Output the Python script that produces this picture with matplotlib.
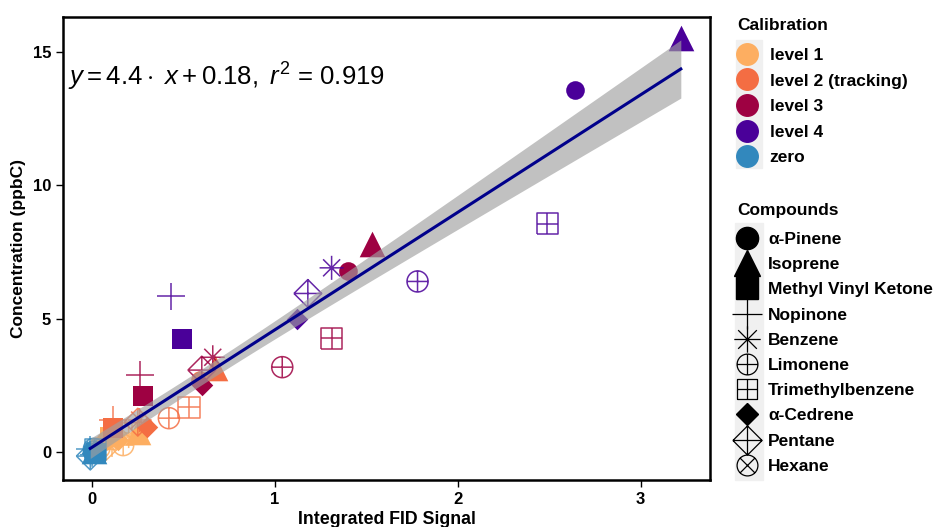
import numpy as np
import matplotlib
matplotlib.use("Agg")
import matplotlib.pyplot as plt
from matplotlib.path import Path
from matplotlib.lines import Line2D
from matplotlib.patches import Rectangle

plt.rcParams['font.family'] = ['Liberation Sans', 'DejaVu Sans']
plt.rcParams['mathtext.fontset'] = 'custom'
plt.rcParams['mathtext.rm'] = 'Liberation Sans'
plt.rcParams['mathtext.it'] = 'Liberation Sans:italic'

# data
compounds = ['α-Pinene', 'Isoprene', 'Methyl Vinyl Ketone', 'Nopinone', 'Benzene',
             'Limonene', 'Trimethylbenzene', 'α-Cedrene', 'Pentane', 'Hexane']
levels = ['level 1', 'level 2 (tracking)', 'level 3', 'level 4', 'zero']
level_colors = ['#fdae61', '#f46d43', '#9e0142', '#4a0099', '#3288bd']

nan = np.nan
lvl1_x = [0.07, 0.25, 0.10, 0.11, 0.20, 0.17, 0.22, 0.14, 0.06, 0.04]
lvl1_y = [0.40, 0.75, 0.56, 0.33, 0.60, 0.26, 0.70, 0.45, 0.10, 0.15]
lvl2_x = [0.59, 0.67, 0.115, 0.115, 0.26, 0.42, 0.53, 0.30, 0.25, nan]
lvl2_y = [2.70, 3.14, 0.90, 1.20, 1.20, 1.27, 1.68, 0.95, 1.12, nan]
lvl3_x = [1.40, 1.53, 0.28, 0.26, 0.66, 1.04, 1.31, 0.60, 0.60, nan]
lvl3_y = [6.80, 7.80, 2.09, 2.88, 3.55, 3.18, 4.26, 2.50, 3.07, nan]
lvl4_x = [2.64, 3.22, 0.49, 0.43, 1.31, 1.78, 2.49, 1.12, 1.18, nan]
lvl4_y = [13.57, 15.50, 4.22, 5.83, 6.90, 6.39, 8.56, 5.00, 5.94, nan]
zero_x = [0.00, 0.01, 0.02, -0.01, 0.00, 0.01, 0.02, 0.00, -0.01, 0.01]
zero_y = [0.00, 0.05, -0.05, 0.10, -0.10, 0.02, 0.08, -0.02, -0.15, 0.12]

slope = 4.4
intercept = 0.18
r2 = 0.919

level_x = [lvl1_x, lvl2_x, lvl3_x, lvl4_x, zero_x]
level_y = [lvl1_y, lvl2_y, lvl3_y, lvl4_y, zero_y]

# custom open markers
M, L = Path.MOVETO, Path.LINETO
cross = Path([[-1, 0], [1, 0], [0, -1], [0, 1]], [M, L, M, L])
xcross = Path([[-0.707, -0.707], [0.707, 0.707], [-0.707, 0.707], [0.707, -0.707]], [M, L, M, L])
circ = Path.unit_circle()
sq = Path([[-1, -1], [1, -1], [1, 1], [-1, 1], [-1, -1]], [M, L, L, L, L])
dia = Path([[-1, 0], [0, -1], [1, 0], [0, 1], [-1, 0]], [M, L, L, L, L])
asterisk = Path.make_compound_path(cross, xcross)
circle_plus = Path.make_compound_path(circ, cross)
square_plus = Path.make_compound_path(sq, cross)
diamond_plus = Path.make_compound_path(dia, cross)
circle_x = Path.make_compound_path(circ, xcross)

comp_markers = ['o', '^', 's', cross, asterisk, circle_plus, square_plus, 'D', diamond_plus, circle_x]
comp_filled = [True, True, True, False, False, False, False, True, False, False]
comp_sizes = [180, 340, 200, 400, 300, 230, 230, 120, 400, 230]
legend_msizes = [16, 19, 15.5, 21, 19, 15, 15, 11, 21, 15]

fig = plt.figure(figsize=(9.38, 5.27), dpi=100)
ax = fig.add_axes([0.067, 0.089, 0.69, 0.879])

for li in range(len(levels)):
    c = level_colors[li]
    for ci in range(len(compounds)):
        x = level_x[li][ci]
        y = level_y[li][ci]
        if np.isnan(x):
            continue
        if comp_filled[ci]:
            ax.scatter(x, y, s=comp_sizes[ci], marker=comp_markers[ci], color=c,
                       linewidths=0, zorder=2)
        else:
            ax.scatter(x, y, s=comp_sizes[ci], marker=comp_markers[ci], facecolors='none',
                       edgecolors=c, linewidths=1.1, alpha=0.85, zorder=2)

# regression line with confidence band
allx = np.concatenate([np.array(v, dtype=float) for v in level_x])
ally = np.concatenate([np.array(v, dtype=float) for v in level_y])
ok = ~np.isnan(allx)
allx, ally = allx[ok], ally[ok]
n = len(allx)
resid = ally - (slope * allx + intercept)
s = np.sqrt(np.sum(resid ** 2) / (n - 2))
xbar = allx.mean()
sxx = np.sum((allx - xbar) ** 2)
xs = np.linspace(allx.min(), allx.max(), 200)
ys = slope * xs + intercept
half = 2.0 * s * np.sqrt(1.0 / n + (xs - xbar) ** 2 / sxx)
ax.fill_between(xs, ys - half, ys + half, color='#a0a0a0', alpha=0.65, linewidth=0, zorder=3)
ax.plot(xs, ys, color='#00008b', lw=2.2, zorder=4)

ax.text(0.008, 0.87, r'$y=4.4\cdot\ x+0.18,\ r^2$' + ' = %.3f' % r2, transform=ax.transAxes,
        fontsize=18.5, va='center', ha='left')

ax.set_xlim(-0.16, 3.38)
ax.set_ylim(-1.05, 16.3)
ax.set_xticks([0, 1, 2, 3])
ax.set_yticks([0, 5, 10, 15])
for sp in ax.spines.values():
    sp.set_linewidth(1.8)
ax.tick_params(direction='out', length=5, width=1, labelsize=12)
for lab in ax.get_xticklabels() + ax.get_yticklabels():
    lab.set_fontweight('bold')
ax.set_xlabel('Integrated FID Signal', fontsize=12.8, fontweight='bold', labelpad=3)
ax.set_ylabel('Concentration (ppbC)', fontsize=12.5, fontweight='bold', labelpad=5)

# grey strips behind the legend keys
fig.patches.append(Rectangle((736 / 938, 1 - 168 / 527), 26 / 938, 128 / 527,
                             transform=fig.transFigure, color='#f0f0f0', zorder=0))
fig.patches.append(Rectangle((735 / 938, 1 - 480 / 527), 28 / 938, 257 / 527,
                             transform=fig.transFigure, color='#f0f0f0', zorder=0))

# legend titles
fig.text(737 / 938, 1 - 26 / 527, 'Calibration', fontsize=12.5, fontweight='bold', va='center')
fig.text(737 / 938, 1 - 211 / 527, 'Compounds', fontsize=12.5, fontweight='bold', va='center')

# legends
cal_handles = [Line2D([], [], marker='o', ls='', color=c, markersize=15.5) for c in level_colors]
leg1 = fig.legend(cal_handles, levels, loc='upper left', bbox_to_anchor=(0.778, 0.9225),
                  frameon=False, prop={'weight': 'bold', 'size': 12.5}, handletextpad=0.7,
                  labelspacing=0.6, borderaxespad=0, handlelength=1.2)

comp_handles = []
for ci in range(len(compounds)):
    if comp_filled[ci]:
        comp_handles.append(Line2D([], [], marker=comp_markers[ci], ls='', color='black',
                                   markersize=legend_msizes[ci]))
    else:
        comp_handles.append(Line2D([], [], marker=comp_markers[ci], ls='', color='black',
                                   markerfacecolor='none', markeredgewidth=0.9,
                                   markersize=legend_msizes[ci]))
leg2 = fig.legend(comp_handles, compounds, loc='upper left', bbox_to_anchor=(0.778, 0.5734),
                  frameon=False, prop={'weight': 'bold', 'size': 12.5}, handletextpad=0.6,
                  labelspacing=0.58, borderaxespad=0, handlelength=1.2)

fig.savefig('out.png', dpi=100)
